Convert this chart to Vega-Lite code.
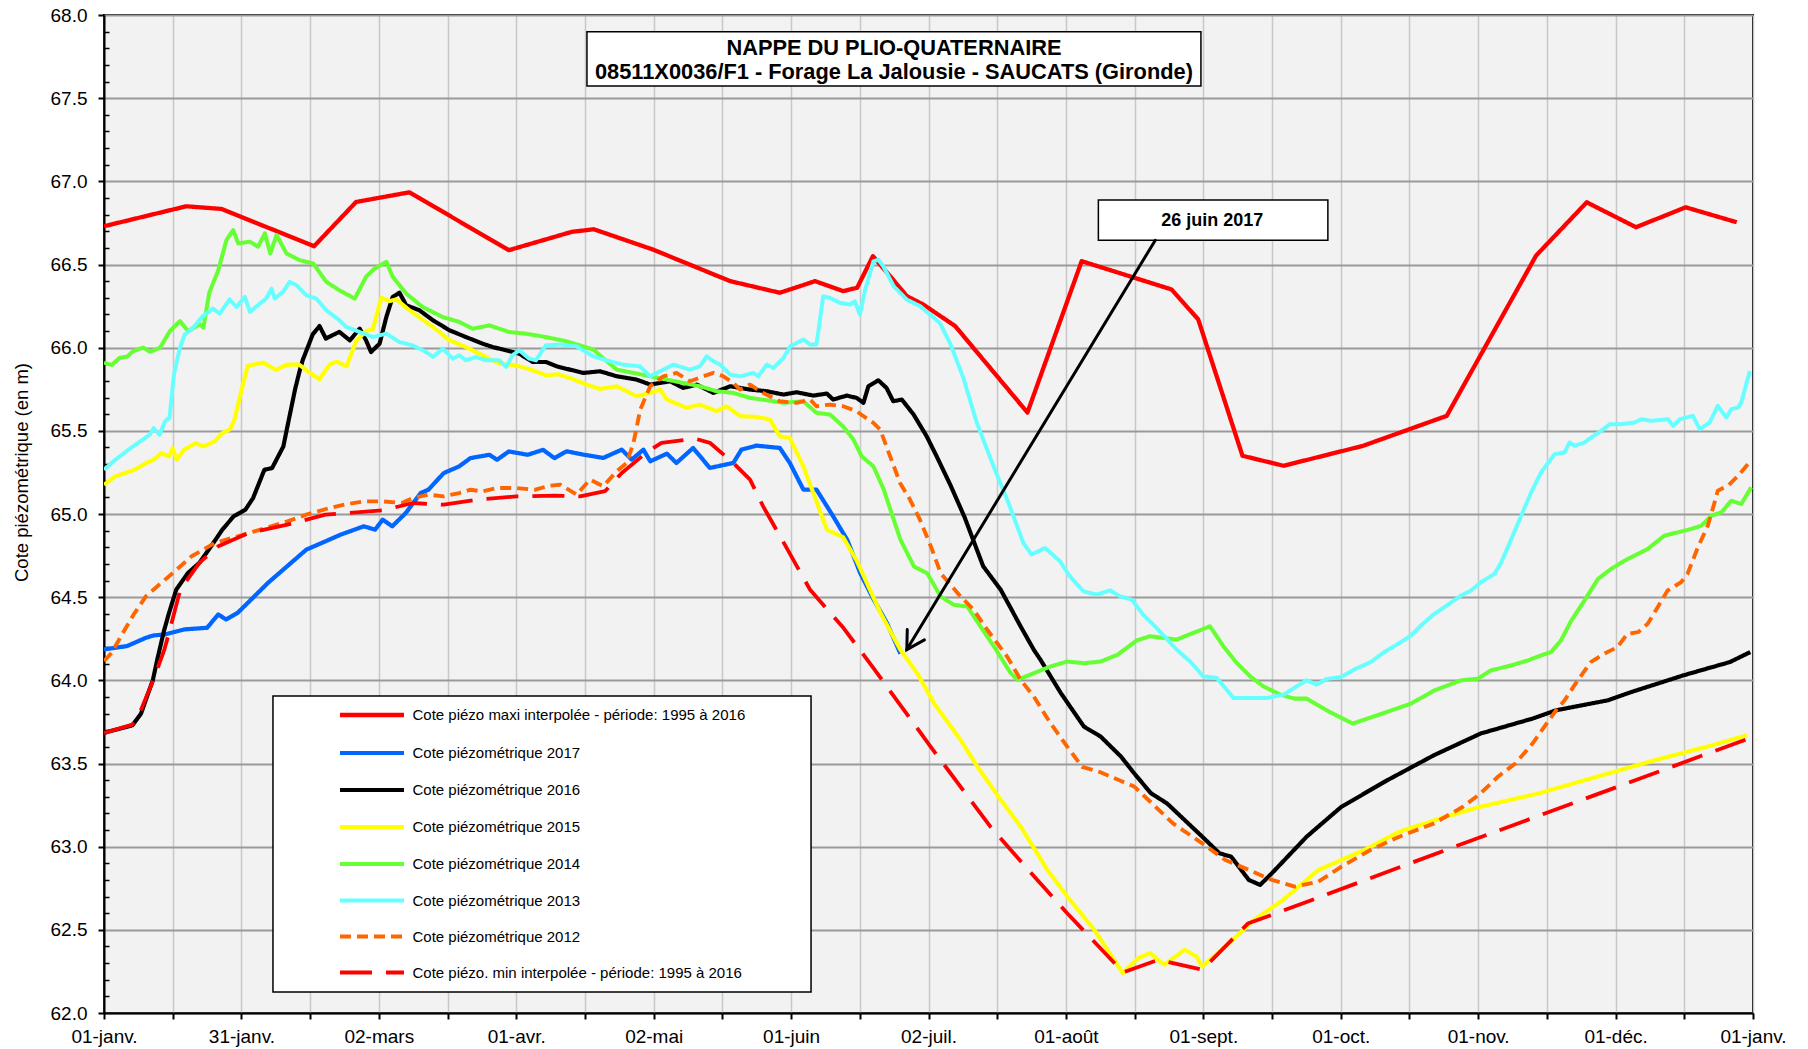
{
"$schema": "https://vega.github.io/schema/vega-lite/v6.json",
"width": 1649, "height": 998,
"autosize": {"type": "none"},
"padding": {"left": 104, "top": 15, "right": 55, "bottom": 36},
"background": "#FFFFFF",
"config": {
 "font": "Liberation Sans",
 "view": {"fill": "#F2F2F2", "stroke": "#000000", "strokeWidth": 2},
 "axis": {"labelFont": "Liberation Sans", "labelFontSize": 19, "labelColor": "#000000", "domainColor": "#000000", "domainWidth": 2, "tickColor": "#000000", "tickWidth": 2, "titleFont": "Liberation Sans", "titleFontSize": 18.5, "titleFontWeight": "normal", "titleColor": "#000000"},
 "legend": {"labelFont": "Liberation Sans"}
},
"resolve": {"axis": {"x": "independent", "y": "independent"}},
"datasets": {
 "boites": [
  {"b": "titre", "x1": 106.9, "x2": 242.8, "y1": 67.573, "y2": 67.9},
  {"b": "note", "x1": 220.1, "x2": 270.9, "y1": 66.646, "y2": 66.888},
  {"b": "legende", "x1": 37.4, "x2": 156.5, "y1": 62.126, "y2": 63.906}
 ],
 "textes": [
  {"k": "titre", "t": "NAPPE DU PLIO-QUATERNAIRE", "x": 174.85, "y": 67.76},
  {"k": "titre", "t": "08511X0036/F1 - Forage La Jalousie - SAUCATS (Gironde)", "x": 174.85, "y": 67.613},
  {"k": "note", "t": "26 juin 2017", "x": 245.3, "y": 66.73}
 ],
 "fleche": [
  {"p": "tige", "i": 0, "x": 232.7, "y": 66.646},
  {"p": "tige", "i": 1, "x": 177.7, "y": 64.185},
  {"p": "tete", "i": 0, "x": 177.8, "y": 64.305},
  {"p": "tete", "i": 1, "x": 177.7, "y": 64.185},
  {"p": "tete", "i": 2, "x": 181.6, "y": 64.243}
 ],
 "series": [
{"s":"maxi","j":0,"v":66.73},{"s":"maxi","j":18.2,"v":66.85},{"s":"maxi","j":26,"v":66.834},{"s":"maxi","j":46.5,"v":66.61},{"s":"maxi","j":55.8,"v":66.876},{"s":"maxi","j":67.6,"v":66.934},{"s":"maxi","j":89.6,"v":66.586},{"s":"maxi","j":103.5,"v":66.696},{"s":"maxi","j":108.4,"v":66.712},{"s":"maxi","j":121.5,"v":66.59},{"s":"maxi","j":138.6,"v":66.4},{"s":"maxi","j":149.6,"v":66.33},{"s":"maxi","j":157.4,"v":66.4},{"s":"maxi","j":163.6,"v":66.34},{"s":"maxi","j":166.7,"v":66.36},{"s":"maxi","j":170.2,"v":66.55},{"s":"maxi","j":174,"v":66.43},{"s":"maxi","j":177.7,"v":66.31},{"s":"maxi","j":181.3,"v":66.26},{"s":"maxi","j":188.4,"v":66.13},{"s":"maxi","j":204.4,"v":65.61},{"s":"maxi","j":216.4,"v":66.52},{"s":"maxi","j":236.3,"v":66.35},{"s":"maxi","j":242.2,"v":66.17},{"s":"maxi","j":252,"v":65.35},{"s":"maxi","j":261.1,"v":65.29},{"s":"maxi","j":278.7,"v":65.41},{"s":"maxi","j":297.2,"v":65.59},{"s":"maxi","j":317,"v":66.554},{"s":"maxi","j":328.2,"v":66.874},{"s":"maxi","j":339.1,"v":66.724},{"s":"maxi","j":350.1,"v":66.844},{"s":"maxi","j":361.4,"v":66.754},
{"s":"2017","j":0,"v":64.186},{"s":"2017","j":5.1,"v":64.206},{"s":"2017","j":9.3,"v":64.256},{"s":"2017","j":11,"v":64.27},{"s":"2017","j":13.5,"v":64.276},{"s":"2017","j":17.7,"v":64.306},{"s":"2017","j":22.8,"v":64.316},{"s":"2017","j":25.3,"v":64.396},{"s":"2017","j":27,"v":64.366},{"s":"2017","j":29.6,"v":64.406},{"s":"2017","j":36.3,"v":64.586},{"s":"2017","j":44.8,"v":64.786},{"s":"2017","j":48.2,"v":64.826},{"s":"2017","j":52.4,"v":64.876},{"s":"2017","j":57.5,"v":64.926},{"s":"2017","j":60,"v":64.906},{"s":"2017","j":61.7,"v":64.966},{"s":"2017","j":63.8,"v":64.926},{"s":"2017","j":66.8,"v":65.006},{"s":"2017","j":70.1,"v":65.126},{"s":"2017","j":71.8,"v":65.146},{"s":"2017","j":75.2,"v":65.246},{"s":"2017","j":78.6,"v":65.286},{"s":"2017","j":81.1,"v":65.336},{"s":"2017","j":85.3,"v":65.356},{"s":"2017","j":87,"v":65.326},{"s":"2017","j":89.6,"v":65.376},{"s":"2017","j":93.8,"v":65.356},{"s":"2017","j":97.2,"v":65.386},{"s":"2017","j":99.7,"v":65.336},{"s":"2017","j":102.4,"v":65.377},{"s":"2017","j":106.1,"v":65.357},{"s":"2017","j":110.5,"v":65.337},{"s":"2017","j":114.6,"v":65.387},{"s":"2017","j":116.8,"v":65.327},{"s":"2017","j":119.4,"v":65.387},{"s":"2017","j":120.9,"v":65.317},{"s":"2017","j":124.6,"v":65.363},{"s":"2017","j":126.7,"v":65.307},{"s":"2017","j":130.4,"v":65.397},{"s":"2017","j":134.1,"v":65.277},{"s":"2017","j":139.3,"v":65.307},{"s":"2017","j":141.1,"v":65.387},{"s":"2017","j":144.4,"v":65.411},{"s":"2017","j":149.6,"v":65.397},{"s":"2017","j":151.8,"v":65.307},{"s":"2017","j":154.8,"v":65.147},{"s":"2017","j":157.7,"v":65.147},{"s":"2017","j":161.4,"v":64.986},{"s":"2017","j":164.5,"v":64.845},{"s":"2017","j":167.4,"v":64.644},{"s":"2017","j":170.4,"v":64.484},{"s":"2017","j":173.3,"v":64.344},{"s":"2017","j":176.3,"v":64.16},
{"s":"2016","j":0,"v":63.684},{"s":"2016","j":6.3,"v":63.73},{"s":"2016","j":8.2,"v":63.8},{"s":"2016","j":9.3,"v":63.886},{"s":"2016","j":10.8,"v":64.0},{"s":"2016","j":11.8,"v":64.126},{"s":"2016","j":13.3,"v":64.3},{"s":"2016","j":14.4,"v":64.406},{"s":"2016","j":16,"v":64.546},{"s":"2016","j":18.6,"v":64.646},{"s":"2016","j":21.1,"v":64.706},{"s":"2016","j":23.7,"v":64.806},{"s":"2016","j":26.2,"v":64.906},{"s":"2016","j":28.7,"v":64.986},{"s":"2016","j":31.3,"v":65.026},{"s":"2016","j":33,"v":65.096},{"s":"2016","j":35.5,"v":65.266},{"s":"2016","j":37.2,"v":65.276},{"s":"2016","j":39.7,"v":65.406},{"s":"2016","j":40.4,"v":65.5},{"s":"2016","j":42.3,"v":65.75},{"s":"2016","j":43.3,"v":65.86},{"s":"2016","j":44,"v":65.926},{"s":"2016","j":46.2,"v":66.08},{"s":"2016","j":47.7,"v":66.13},{"s":"2016","j":49.1,"v":66.055},{"s":"2016","j":52.1,"v":66.095},{"s":"2016","j":54.4,"v":66.044},{"s":"2016","j":56.6,"v":66.114},{"s":"2016","j":58,"v":66.044},{"s":"2016","j":59.1,"v":65.974},{"s":"2016","j":61,"v":66.024},{"s":"2016","j":62.5,"v":66.185},{"s":"2016","j":63.9,"v":66.305},{"s":"2016","j":65.4,"v":66.33},{"s":"2016","j":66.9,"v":66.255},{"s":"2016","j":69.8,"v":66.225},{"s":"2016","j":72.8,"v":66.165},{"s":"2016","j":76.5,"v":66.104},{"s":"2016","j":80.1,"v":66.064},{"s":"2016","j":83.8,"v":66.024},{"s":"2016","j":86,"v":66.004},{"s":"2016","j":89,"v":65.984},{"s":"2016","j":91.9,"v":65.964},{"s":"2016","j":94.9,"v":65.914},{"s":"2016","j":97.8,"v":65.914},{"s":"2016","j":100.2,"v":65.888},{"s":"2016","j":103.1,"v":65.868},{"s":"2016","j":106.1,"v":65.848},{"s":"2016","j":109.8,"v":65.858},{"s":"2016","j":113.5,"v":65.828},{"s":"2016","j":117.9,"v":65.808},{"s":"2016","j":120.9,"v":65.778},{"s":"2016","j":125.3,"v":65.798},{"s":"2016","j":128.2,"v":65.758},{"s":"2016","j":131.2,"v":65.778},{"s":"2016","j":134.9,"v":65.728},{"s":"2016","j":138.6,"v":65.768},{"s":"2016","j":143,"v":65.748},{"s":"2016","j":146.7,"v":65.738},{"s":"2016","j":150.4,"v":65.718},{"s":"2016","j":153.3,"v":65.732},{"s":"2016","j":157,"v":65.712},{"s":"2016","j":160,"v":65.724},{"s":"2016","j":161.4,"v":65.688},{"s":"2016","j":164.4,"v":65.712},{"s":"2016","j":166.6,"v":65.698},{"s":"2016","j":168.1,"v":65.668},{"s":"2016","j":169.2,"v":65.768},{"s":"2016","j":171.4,"v":65.804},{"s":"2016","j":173.2,"v":65.758},{"s":"2016","j":174.7,"v":65.678},{"s":"2016","j":176.6,"v":65.688},{"s":"2016","j":179.2,"v":65.598},{"s":"2016","j":182.1,"v":65.467},{"s":"2016","j":184.3,"v":65.347},{"s":"2016","j":187.3,"v":65.177},{"s":"2016","j":190.5,"v":64.98},{"s":"2016","j":194.6,"v":64.686},{"s":"2016","j":198.5,"v":64.544},{"s":"2016","j":202.9,"v":64.324},{"s":"2016","j":205.8,"v":64.184},{"s":"2016","j":207.3,"v":64.123},{"s":"2016","j":211.8,"v":63.923},{"s":"2016","j":216.9,"v":63.722},{"s":"2016","j":220.6,"v":63.662},{"s":"2016","j":225.1,"v":63.542},{"s":"2016","j":228,"v":63.442},{"s":"2016","j":231.7,"v":63.322},{"s":"2016","j":235.3,"v":63.26},{"s":"2016","j":243.1,"v":63.06},{"s":"2016","j":246.9,"v":62.96},{"s":"2016","j":249.5,"v":62.94},{"s":"2016","j":253.4,"v":62.8},{"s":"2016","j":255.9,"v":62.77},{"s":"2016","j":258.5,"v":62.84},{"s":"2016","j":266.2,"v":63.06},{"s":"2016","j":273.9,"v":63.24},{"s":"2016","j":284.1,"v":63.4},{"s":"2016","j":294.4,"v":63.55},{"s":"2016","j":304.7,"v":63.68},{"s":"2016","j":316.2,"v":63.77},{"s":"2016","j":321.4,"v":63.82},{"s":"2016","j":332.9,"v":63.88},{"s":"2016","j":338.1,"v":63.93},{"s":"2016","j":349.6,"v":64.03},{"s":"2016","j":359.9,"v":64.11},{"s":"2016","j":364.4,"v":64.17},
{"s":"2015","j":0,"v":65.176},{"s":"2015","j":2.5,"v":65.226},{"s":"2015","j":6.8,"v":65.266},{"s":"2015","j":9.3,"v":65.306},{"s":"2015","j":11,"v":65.326},{"s":"2015","j":12.7,"v":65.366},{"s":"2015","j":14.4,"v":65.346},{"s":"2015","j":15.2,"v":65.396},{"s":"2015","j":16.1,"v":65.326},{"s":"2015","j":17.7,"v":65.386},{"s":"2015","j":20.3,"v":65.426},{"s":"2015","j":22,"v":65.406},{"s":"2015","j":24.5,"v":65.436},{"s":"2015","j":26.2,"v":65.486},{"s":"2015","j":27.9,"v":65.51},{"s":"2015","j":28.8,"v":65.56},{"s":"2015","j":30.5,"v":65.75},{"s":"2015","j":31.8,"v":65.89},{"s":"2015","j":35.2,"v":65.91},{"s":"2015","j":38.1,"v":65.866},{"s":"2015","j":40.5,"v":65.898},{"s":"2015","j":43.2,"v":65.898},{"s":"2015","j":45.5,"v":65.85},{"s":"2015","j":47.7,"v":65.81},{"s":"2015","j":49.9,"v":65.898},{"s":"2015","j":51.5,"v":65.916},{"s":"2015","j":53.7,"v":65.888},{"s":"2015","j":55.8,"v":66.04},{"s":"2015","j":58,"v":66.1},{"s":"2015","j":59.5,"v":66.11},{"s":"2015","j":61.4,"v":66.3},{"s":"2015","j":63.2,"v":66.28},{"s":"2015","j":64.7,"v":66.29},{"s":"2015","j":67.6,"v":66.225},{"s":"2015","j":72.8,"v":66.125},{"s":"2015","j":76.5,"v":66.044},{"s":"2015","j":80.1,"v":66.004},{"s":"2015","j":83.8,"v":65.954},{"s":"2015","j":87.5,"v":65.904},{"s":"2015","j":91.2,"v":65.894},{"s":"2015","j":94.9,"v":65.864},{"s":"2015","j":97.8,"v":65.834},{"s":"2015","j":100.5,"v":65.84},{"s":"2015","j":103.1,"v":65.818},{"s":"2015","j":106.8,"v":65.778},{"s":"2015","j":109.8,"v":65.752},{"s":"2015","j":113.5,"v":65.768},{"s":"2015","j":117.9,"v":65.708},{"s":"2015","j":120.9,"v":65.728},{"s":"2015","j":123.1,"v":65.748},{"s":"2015","j":124.6,"v":65.688},{"s":"2015","j":129,"v":65.638},{"s":"2015","j":131.9,"v":65.658},{"s":"2015","j":135.6,"v":65.618},{"s":"2015","j":137.8,"v":65.648},{"s":"2015","j":140.8,"v":65.588},{"s":"2015","j":144.4,"v":65.584},{"s":"2015","j":147.4,"v":65.568},{"s":"2015","j":149.6,"v":65.467},{"s":"2015","j":151.8,"v":65.457},{"s":"2015","j":154.8,"v":65.287},{"s":"2015","j":157,"v":65.127},{"s":"2015","j":160,"v":64.906},{"s":"2015","j":163.6,"v":64.86},{"s":"2015","j":166.6,"v":64.72},{"s":"2015","j":171.9,"v":64.404},{"s":"2015","j":176.3,"v":64.183},{"s":"2015","j":180,"v":64.043},{"s":"2015","j":183.7,"v":63.863},{"s":"2015","j":189.6,"v":63.642},{"s":"2015","j":193.3,"v":63.482},{"s":"2015","j":198.5,"v":63.281},{"s":"2015","j":202.9,"v":63.121},{"s":"2015","j":208.8,"v":62.861},{"s":"2015","j":213.2,"v":62.701},{"s":"2015","j":219.2,"v":62.5},{"s":"2015","j":225.5,"v":62.24},{"s":"2015","j":228.9,"v":62.33},{"s":"2015","j":231.5,"v":62.36},{"s":"2015","j":234.7,"v":62.29},{"s":"2015","j":239.2,"v":62.38},{"s":"2015","j":241.8,"v":62.34},{"s":"2015","j":243.1,"v":62.28},{"s":"2015","j":248.2,"v":62.4},{"s":"2015","j":254.6,"v":62.56},{"s":"2015","j":261,"v":62.68},{"s":"2015","j":268.8,"v":62.86},{"s":"2015","j":279,"v":62.98},{"s":"2015","j":286.7,"v":63.09},{"s":"2015","j":297,"v":63.18},{"s":"2015","j":304.7,"v":63.24},{"s":"2015","j":317.5,"v":63.32},{"s":"2015","j":330.4,"v":63.42},{"s":"2015","j":343.3,"v":63.52},{"s":"2015","j":356,"v":63.61},{"s":"2015","j":363.7,"v":63.67},
{"s":"2014","j":0,"v":65.91},{"s":"2014","j":1.7,"v":65.896},{"s":"2014","j":3.5,"v":65.94},{"s":"2014","j":5.1,"v":65.946},{"s":"2014","j":6.5,"v":65.98},{"s":"2014","j":8.7,"v":66.0},{"s":"2014","j":10.2,"v":65.975},{"s":"2014","j":12.4,"v":66.0},{"s":"2014","j":14.6,"v":66.1},{"s":"2014","j":16.8,"v":66.16},{"s":"2014","j":18.6,"v":66.1},{"s":"2014","j":21.2,"v":66.14},{"s":"2014","j":22,"v":66.12},{"s":"2014","j":23.3,"v":66.33},{"s":"2014","j":25.3,"v":66.466},{"s":"2014","j":27.1,"v":66.647},{"s":"2014","j":28.6,"v":66.707},{"s":"2014","j":29.7,"v":66.627},{"s":"2014","j":32.3,"v":66.637},{"s":"2014","j":34.1,"v":66.607},{"s":"2014","j":35.6,"v":66.687},{"s":"2014","j":36.8,"v":66.566},{"s":"2014","j":38.2,"v":66.677},{"s":"2014","j":40.4,"v":66.566},{"s":"2014","j":43.3,"v":66.526},{"s":"2014","j":46.3,"v":66.506},{"s":"2014","j":49.2,"v":66.396},{"s":"2014","j":52.1,"v":66.345},{"s":"2014","j":55.5,"v":66.295},{"s":"2014","j":58,"v":66.426},{"s":"2014","j":59.9,"v":66.476},{"s":"2014","j":62.5,"v":66.516},{"s":"2014","j":63.9,"v":66.426},{"s":"2014","j":66.9,"v":66.325},{"s":"2014","j":70.5,"v":66.245},{"s":"2014","j":74.9,"v":66.185},{"s":"2014","j":78.6,"v":66.155},{"s":"2014","j":81.6,"v":66.114},{"s":"2014","j":85.3,"v":66.134},{"s":"2014","j":89.7,"v":66.094},{"s":"2014","j":93.4,"v":66.084},{"s":"2014","j":97.8,"v":66.064},{"s":"2014","j":102.4,"v":66.038},{"s":"2014","j":108.3,"v":65.989},{"s":"2014","j":111.3,"v":65.918},{"s":"2014","j":113.5,"v":65.868},{"s":"2014","j":117.2,"v":65.848},{"s":"2014","j":120.9,"v":65.828},{"s":"2014","j":128.2,"v":65.788},{"s":"2014","j":131.9,"v":65.768},{"s":"2014","j":135.6,"v":65.738},{"s":"2014","j":139.3,"v":65.728},{"s":"2014","j":143,"v":65.698},{"s":"2014","j":146.7,"v":65.684},{"s":"2014","j":150.4,"v":65.668},{"s":"2014","j":154.8,"v":65.678},{"s":"2014","j":157.7,"v":65.608},{"s":"2014","j":160.7,"v":65.598},{"s":"2014","j":163.6,"v":65.527},{"s":"2014","j":165.9,"v":65.447},{"s":"2014","j":167.7,"v":65.347},{"s":"2014","j":170.3,"v":65.287},{"s":"2014","j":172.6,"v":65.147},{"s":"2014","j":174.8,"v":64.966},{"s":"2014","j":176.3,"v":64.845},{"s":"2014","j":179.3,"v":64.684},{"s":"2014","j":182.2,"v":64.644},{"s":"2014","j":185.2,"v":64.504},{"s":"2014","j":188.1,"v":64.454},{"s":"2014","j":191.1,"v":64.444},{"s":"2014","j":194,"v":64.324},{"s":"2014","j":197,"v":64.203},{"s":"2014","j":200.7,"v":64.043},{"s":"2014","j":202.2,"v":64.003},{"s":"2014","j":205.8,"v":64.043},{"s":"2014","j":209.5,"v":64.083},{"s":"2014","j":213.2,"v":64.113},{"s":"2014","j":216.9,"v":64.103},{"s":"2014","j":220.6,"v":64.113},{"s":"2014","j":224.3,"v":64.153},{"s":"2014","j":228.6,"v":64.24},{"s":"2014","j":231.5,"v":64.265},{"s":"2014","j":237.4,"v":64.245},{"s":"2014","j":241.1,"v":64.285},{"s":"2014","j":244.8,"v":64.325},{"s":"2014","j":247.8,"v":64.204},{"s":"2014","j":250.7,"v":64.105},{"s":"2014","j":253.7,"v":64.024},{"s":"2014","j":256.6,"v":63.964},{"s":"2014","j":260.4,"v":63.914},{"s":"2014","j":263.5,"v":63.89},{"s":"2014","j":266.2,"v":63.89},{"s":"2014","j":271.3,"v":63.81},{"s":"2014","j":276.4,"v":63.74},{"s":"2014","j":282.9,"v":63.8},{"s":"2014","j":289.3,"v":63.86},{"s":"2014","j":294.5,"v":63.94},{"s":"2014","j":300.4,"v":64.0},{"s":"2014","j":304.1,"v":64.01},{"s":"2014","j":307,"v":64.06},{"s":"2014","j":311.5,"v":64.09},{"s":"2014","j":315.2,"v":64.12},{"s":"2014","j":318.1,"v":64.15},{"s":"2014","j":320.3,"v":64.17},{"s":"2014","j":322.5,"v":64.24},{"s":"2014","j":324.8,"v":64.36},{"s":"2014","j":327.7,"v":64.48},{"s":"2014","j":330.7,"v":64.61},{"s":"2014","j":333.6,"v":64.67},{"s":"2014","j":336.6,"v":64.72},{"s":"2014","j":338.8,"v":64.75},{"s":"2014","j":341.7,"v":64.79},{"s":"2014","j":345.4,"v":64.87},{"s":"2014","j":348.4,"v":64.89},{"s":"2014","j":351.3,"v":64.91},{"s":"2014","j":353.6,"v":64.93},{"s":"2014","j":355.8,"v":64.99},{"s":"2014","j":358,"v":65.01},{"s":"2014","j":360.2,"v":65.08},{"s":"2014","j":362.4,"v":65.06},{"s":"2014","j":364.6,"v":65.16},
{"s":"2013","j":0,"v":65.266},{"s":"2013","j":2.5,"v":65.326},{"s":"2013","j":5.9,"v":65.396},{"s":"2013","j":8.5,"v":65.446},{"s":"2013","j":10.1,"v":65.476},{"s":"2013","j":11,"v":65.516},{"s":"2013","j":12.3,"v":65.476},{"s":"2013","j":13.5,"v":65.556},{"s":"2013","j":14.5,"v":65.58},{"s":"2013","j":15.5,"v":65.84},{"s":"2013","j":16.8,"v":66.0},{"s":"2013","j":17.9,"v":66.08},{"s":"2013","j":19.7,"v":66.12},{"s":"2013","j":21.9,"v":66.19},{"s":"2013","j":24.1,"v":66.235},{"s":"2013","j":25.6,"v":66.205},{"s":"2013","j":27.8,"v":66.29},{"s":"2013","j":29.3,"v":66.245},{"s":"2013","j":31.2,"v":66.305},{"s":"2013","j":32.3,"v":66.215},{"s":"2013","j":34.5,"v":66.265},{"s":"2013","j":35.9,"v":66.295},{"s":"2013","j":37.1,"v":66.355},{"s":"2013","j":37.8,"v":66.295},{"s":"2013","j":39.6,"v":66.335},{"s":"2013","j":41.1,"v":66.396},{"s":"2013","j":42.6,"v":66.375},{"s":"2013","j":44.8,"v":66.315},{"s":"2013","j":47,"v":66.295},{"s":"2013","j":49.2,"v":66.225},{"s":"2013","j":52.1,"v":66.165},{"s":"2013","j":53.6,"v":66.125},{"s":"2013","j":56.6,"v":66.094},{"s":"2013","j":59.5,"v":66.064},{"s":"2013","j":62.5,"v":66.084},{"s":"2013","j":65.4,"v":66.034},{"s":"2013","j":68.3,"v":66.014},{"s":"2013","j":71.3,"v":65.974},{"s":"2013","j":72.8,"v":65.944},{"s":"2013","j":75,"v":65.994},{"s":"2013","j":77.2,"v":65.934},{"s":"2013","j":78.7,"v":65.954},{"s":"2013","j":80.1,"v":65.924},{"s":"2013","j":82.3,"v":65.944},{"s":"2013","j":84.5,"v":65.924},{"s":"2013","j":87.5,"v":65.924},{"s":"2013","j":89,"v":65.884},{"s":"2013","j":90.4,"v":65.954},{"s":"2013","j":91.9,"v":65.984},{"s":"2013","j":94.1,"v":65.934},{"s":"2013","j":95.6,"v":65.924},{"s":"2013","j":97.8,"v":66.014},{"s":"2013","j":101,"v":66.019},{"s":"2013","j":104.6,"v":66.008},{"s":"2013","j":108.3,"v":65.948},{"s":"2013","j":112,"v":65.918},{"s":"2013","j":114.9,"v":65.898},{"s":"2013","j":118.6,"v":65.888},{"s":"2013","j":120.9,"v":65.828},{"s":"2013","j":123.8,"v":65.868},{"s":"2013","j":126,"v":65.898},{"s":"2013","j":129.7,"v":65.868},{"s":"2013","j":131.9,"v":65.888},{"s":"2013","j":133.4,"v":65.948},{"s":"2013","j":134.9,"v":65.918},{"s":"2013","j":136.4,"v":65.898},{"s":"2013","j":138.6,"v":65.838},{"s":"2013","j":140.8,"v":65.828},{"s":"2013","j":143.7,"v":65.848},{"s":"2013","j":144.8,"v":65.828},{"s":"2013","j":146.7,"v":65.898},{"s":"2013","j":148.2,"v":65.878},{"s":"2013","j":150.4,"v":65.938},{"s":"2013","j":151.9,"v":66.008},{"s":"2013","j":154.8,"v":66.049},{"s":"2013","j":156.3,"v":66.019},{"s":"2013","j":157.7,"v":66.019},{"s":"2013","j":159.2,"v":66.309},{"s":"2013","j":160.7,"v":66.299},{"s":"2013","j":162.9,"v":66.269},{"s":"2013","j":165.1,"v":66.259},{"s":"2013","j":166.2,"v":66.279},{"s":"2013","j":167.3,"v":66.199},{"s":"2013","j":168.4,"v":66.339},{"s":"2013","j":170.3,"v":66.519},{"s":"2013","j":171.4,"v":66.529},{"s":"2013","j":172.5,"v":66.489},{"s":"2013","j":174.8,"v":66.369},{"s":"2013","j":177.7,"v":66.289},{"s":"2013","j":180.7,"v":66.249},{"s":"2013","j":185,"v":66.149},{"s":"2013","j":187.3,"v":66.025},{"s":"2013","j":190.2,"v":65.82},{"s":"2013","j":193.2,"v":65.548},{"s":"2013","j":196.9,"v":65.287},{"s":"2013","j":200.2,"v":65.067},{"s":"2013","j":203.5,"v":64.826},{"s":"2013","j":205.3,"v":64.756},{"s":"2013","j":208.3,"v":64.796},{"s":"2013","j":211.6,"v":64.716},{"s":"2013","j":213.8,"v":64.625},{"s":"2013","j":216.8,"v":64.535},{"s":"2013","j":219.7,"v":64.515},{"s":"2013","j":222.7,"v":64.541},{"s":"2013","j":224.9,"v":64.505},{"s":"2013","j":227.5,"v":64.485},{"s":"2013","j":230,"v":64.395},{"s":"2013","j":233,"v":64.315},{"s":"2013","j":237.4,"v":64.185},{"s":"2013","j":240.4,"v":64.114},{"s":"2013","j":243.3,"v":64.024},{"s":"2013","j":246.3,"v":64.014},{"s":"2013","j":248.5,"v":63.944},{"s":"2013","j":250,"v":63.894},{"s":"2013","j":253.7,"v":63.894},{"s":"2013","j":257.4,"v":63.894},{"s":"2013","j":261.1,"v":63.914},{"s":"2013","j":264,"v":63.964},{"s":"2013","j":266.2,"v":64.0},{"s":"2013","j":268.4,"v":63.974},{"s":"2013","j":270.6,"v":64.008},{"s":"2013","j":273.8,"v":64.02},{"s":"2013","j":277.1,"v":64.07},{"s":"2013","j":280.4,"v":64.11},{"s":"2013","j":283.4,"v":64.17},{"s":"2013","j":287.1,"v":64.23},{"s":"2013","j":289.3,"v":64.27},{"s":"2013","j":291.5,"v":64.33},{"s":"2013","j":294.5,"v":64.4},{"s":"2013","j":296.7,"v":64.44},{"s":"2013","j":300.4,"v":64.51},{"s":"2013","j":302.6,"v":64.54},{"s":"2013","j":304.8,"v":64.59},{"s":"2013","j":307.8,"v":64.64},{"s":"2013","j":309.3,"v":64.71},{"s":"2013","j":311.5,"v":64.85},{"s":"2013","j":313.7,"v":64.99},{"s":"2013","j":315.9,"v":65.13},{"s":"2013","j":318.1,"v":65.25},{"s":"2013","j":321.1,"v":65.36},{"s":"2013","j":323.3,"v":65.37},{"s":"2013","j":324.4,"v":65.43},{"s":"2013","j":325.5,"v":65.41},{"s":"2013","j":327.7,"v":65.43},{"s":"2013","j":329.2,"v":65.46},{"s":"2013","j":331.4,"v":65.5},{"s":"2013","j":333.3,"v":65.54},{"s":"2013","j":335.8,"v":65.54},{"s":"2013","j":338.8,"v":65.55},{"s":"2013","j":340.3,"v":65.57},{"s":"2013","j":342.5,"v":65.56},{"s":"2013","j":346.2,"v":65.57},{"s":"2013","j":347.3,"v":65.53},{"s":"2013","j":348.8,"v":65.57},{"s":"2013","j":351.7,"v":65.59},{"s":"2013","j":353.2,"v":65.51},{"s":"2013","j":355.4,"v":65.55},{"s":"2013","j":357.2,"v":65.65},{"s":"2013","j":359.1,"v":65.58},{"s":"2013","j":360.2,"v":65.63},{"s":"2013","j":361.7,"v":65.64},{"s":"2013","j":362.4,"v":65.67},{"s":"2013","j":364.3,"v":65.86},
{"s":"2012","j":0,"v":64.116},{"s":"2012","j":1.7,"v":64.166},{"s":"2012","j":4.2,"v":64.286},{"s":"2012","j":6.8,"v":64.406},{"s":"2012","j":9.3,"v":64.506},{"s":"2012","j":12.7,"v":64.586},{"s":"2012","j":16.1,"v":64.666},{"s":"2012","j":19.4,"v":64.746},{"s":"2012","j":22,"v":64.786},{"s":"2012","j":24.5,"v":64.826},{"s":"2012","j":29.6,"v":64.866},{"s":"2012","j":34.6,"v":64.906},{"s":"2012","j":40.6,"v":64.956},{"s":"2012","j":44.8,"v":64.996},{"s":"2012","j":49.9,"v":65.036},{"s":"2012","j":53.2,"v":65.056},{"s":"2012","j":57.5,"v":65.076},{"s":"2012","j":61.7,"v":65.076},{"s":"2012","j":65.9,"v":65.066},{"s":"2012","j":68.4,"v":65.096},{"s":"2012","j":71.8,"v":65.116},{"s":"2012","j":75.2,"v":65.106},{"s":"2012","j":78.6,"v":65.126},{"s":"2012","j":81.1,"v":65.146},{"s":"2012","j":83.7,"v":65.136},{"s":"2012","j":87,"v":65.156},{"s":"2012","j":91.3,"v":65.156},{"s":"2012","j":95.5,"v":65.146},{"s":"2012","j":98.5,"v":65.17},{"s":"2012","j":101,"v":65.176},{"s":"2012","j":104.6,"v":65.117},{"s":"2012","j":107.6,"v":65.207},{"s":"2012","j":110.5,"v":65.167},{"s":"2012","j":113.5,"v":65.257},{"s":"2012","j":115.7,"v":65.307},{"s":"2012","j":117.2,"v":65.428},{"s":"2012","j":118.7,"v":65.628},{"s":"2012","j":120.9,"v":65.768},{"s":"2012","j":123.8,"v":65.828},{"s":"2012","j":126.7,"v":65.848},{"s":"2012","j":129.7,"v":65.798},{"s":"2012","j":132.7,"v":65.828},{"s":"2012","j":134.9,"v":65.848},{"s":"2012","j":137.1,"v":65.828},{"s":"2012","j":139.3,"v":65.788},{"s":"2012","j":140.8,"v":65.748},{"s":"2012","j":143,"v":65.778},{"s":"2012","j":145.9,"v":65.728},{"s":"2012","j":149.6,"v":65.678},{"s":"2012","j":153.3,"v":65.668},{"s":"2012","j":156.3,"v":65.688},{"s":"2012","j":157.7,"v":65.648},{"s":"2012","j":160.7,"v":65.658},{"s":"2012","j":163.6,"v":65.648},{"s":"2012","j":166.6,"v":65.618},{"s":"2012","j":168.1,"v":65.588},{"s":"2012","j":170.3,"v":65.548},{"s":"2012","j":171.8,"v":65.508},{"s":"2012","j":174,"v":65.347},{"s":"2012","j":176.2,"v":65.187},{"s":"2012","j":178.4,"v":65.087},{"s":"2012","j":180.6,"v":64.966},{"s":"2012","j":183.1,"v":64.8},{"s":"2012","j":185.2,"v":64.644},{"s":"2012","j":189.6,"v":64.504},{"s":"2012","j":192.5,"v":64.424},{"s":"2012","j":195.5,"v":64.304},{"s":"2012","j":199.9,"v":64.143},{"s":"2012","j":202.9,"v":64.003},{"s":"2012","j":205.8,"v":63.903},{"s":"2012","j":209.5,"v":63.742},{"s":"2012","j":213.2,"v":63.602},{"s":"2012","j":216.5,"v":63.48},{"s":"2012","j":220.3,"v":63.45},{"s":"2012","j":225.5,"v":63.39},{"s":"2012","j":228,"v":63.362},{"s":"2012","j":231.6,"v":63.27},{"s":"2012","j":236.6,"v":63.14},{"s":"2012","j":243.1,"v":63.02},{"s":"2012","j":248.2,"v":62.92},{"s":"2012","j":253.4,"v":62.86},{"s":"2012","j":258.5,"v":62.8},{"s":"2012","j":263.6,"v":62.76},{"s":"2012","j":268.8,"v":62.79},{"s":"2012","j":273.9,"v":62.88},{"s":"2012","j":280.3,"v":62.98},{"s":"2012","j":286.7,"v":63.06},{"s":"2012","j":294.4,"v":63.14},{"s":"2012","j":300.8,"v":63.24},{"s":"2012","j":304.7,"v":63.32},{"s":"2012","j":308.5,"v":63.42},{"s":"2012","j":312.4,"v":63.5},{"s":"2012","j":316.2,"v":63.62},{"s":"2012","j":318.8,"v":63.72},{"s":"2012","j":321.4,"v":63.82},{"s":"2012","j":323.3,"v":63.88},{"s":"2012","j":326.2,"v":64.0},{"s":"2012","j":329.1,"v":64.11},{"s":"2012","j":332.1,"v":64.16},{"s":"2012","j":335,"v":64.2},{"s":"2012","j":337.2,"v":64.28},{"s":"2012","j":339.6,"v":64.29},{"s":"2012","j":341.7,"v":64.34},{"s":"2012","j":343.9,"v":64.44},{"s":"2012","j":346.1,"v":64.54},{"s":"2012","j":349.1,"v":64.59},{"s":"2012","j":350.5,"v":64.64},{"s":"2012","j":352.8,"v":64.8},{"s":"2012","j":355,"v":64.93},{"s":"2012","j":356.5,"v":65.07},{"s":"2012","j":357.2,"v":65.14},{"s":"2012","j":359.5,"v":65.17},{"s":"2012","j":361.7,"v":65.23},{"s":"2012","j":363.9,"v":65.3},
{"s":"min","j":0,"v":63.684},{"s":"min","j":6.3,"v":63.734},{"s":"min","j":8.2,"v":63.824},{"s":"min","j":10.8,"v":63.994},{"s":"min","j":13.3,"v":64.18},{"s":"min","j":14.4,"v":64.286},{"s":"min","j":16.9,"v":64.546},{"s":"min","j":21.1,"v":64.706},{"s":"min","j":25.3,"v":64.806},{"s":"min","j":32.1,"v":64.886},{"s":"min","j":40.6,"v":64.936},{"s":"min","j":49,"v":64.996},{"s":"min","j":61.7,"v":65.022},{"s":"min","j":68.4,"v":65.066},{"s":"min","j":75.2,"v":65.056},{"s":"min","j":82.8,"v":65.086},{"s":"min","j":91.3,"v":65.106},{"s":"min","j":99.7,"v":65.11},{"s":"min","j":105.4,"v":65.106},{"s":"min","j":110.9,"v":65.137},{"s":"min","j":114.6,"v":65.247},{"s":"min","j":120.1,"v":65.37},{"s":"min","j":123.4,"v":65.428},{"s":"min","j":130.8,"v":65.453},{"s":"min","j":134.1,"v":65.428},{"s":"min","j":139.3,"v":65.307},{"s":"min","j":143,"v":65.207},{"s":"min","j":145.9,"v":65.046},{"s":"min","j":151.1,"v":64.796},{"s":"min","j":156.3,"v":64.544},{"s":"min","j":163.7,"v":64.314},{"s":"min","j":170.4,"v":64.07},{"s":"min","j":183,"v":63.6},{"s":"min","j":196.2,"v":63.12},{"s":"min","j":205.9,"v":62.82},{"s":"min","j":213.2,"v":62.6},{"s":"min","j":225.6,"v":62.244},{"s":"min","j":233.4,"v":62.32},{"s":"min","j":243.1,"v":62.26},{"s":"min","j":253.3,"v":62.54},{"s":"min","j":258.5,"v":62.59},{"s":"min","j":299.5,"v":63.005},{"s":"min","j":365,"v":63.66}
 ]
},
"layer": [
 {
  "data": {"name": "boites"},
  "mark": {"type": "rect", "fill": "#FFFFFF", "stroke": "#000000", "strokeWidth": 1.5},
  "encoding": {
   "x": {"field": "x1", "type": "quantitative", "scale": {"domain": [0, 365], "nice": false, "zero": false}, "axis": null},
   "x2": {"field": "x2"},
   "y": {"field": "y1", "type": "quantitative", "scale": {"domain": [62, 68], "nice": false, "zero": false},
         "axis": {"orient": "left", "values": [62.1,62.2,62.3,62.4,62.6,62.7,62.8,62.9,63.1,63.2,63.3,63.4,63.6,63.7,63.8,63.9,64.1,64.2,64.3,64.4,64.6,64.7,64.8,64.9,65.1,65.2,65.3,65.4,65.6,65.7,65.8,65.9,66.1,66.2,66.3,66.4,66.6,66.7,66.8,66.9,67.1,67.2,67.3,67.4,67.6,67.7,67.8,67.9],
                  "labels": false, "domain": false, "grid": false, "tickSize": 5, "offset": -5, "tickWidth": 1.5, "title": null}},
   "y2": {"field": "y2"}
  }
 },
 {
  "data": {"name": "series"},
  "mark": {"type": "line", "strokeJoin": "round", "clip": true},
  "encoding": {
   "x": {"field": "j", "type": "quantitative", "scale": {"domain": [0, 365], "nice": false, "zero": false},
         "axis": {"orient": "bottom", "values": [0,15.2083,30.4167,45.625,60.8333,76.0417,91.25,106.4583,121.6667,136.875,152.0833,167.2917,182.5,197.7083,212.9167,228.125,243.3333,258.5417,273.75,288.9583,304.1667,319.375,334.5833,349.7917,365],
                  "labelExpr": "round(datum.value / 15.208333) % 2 == 0 ? ['01-janv.','31-janv.','02-mars','01-avr.','02-mai','01-juin','02-juil.','01-août','01-sept.','01-oct.','01-nov.','01-déc.','01-janv.'][round(datum.value / 30.416667)] : ''",
                  "labelOverlap": false, "labelFlush": false, "labelAngle": 0, "tickSize": 6, "labelPadding": 8,
                  "grid": true, "gridColor": "#C8C8C8", "gridWidth": 1.5, "title": null}},
   "y": {"field": "v", "type": "quantitative", "scale": {"domain": [62, 68], "nice": false, "zero": false},
         "axis": {"orient": "left", "values": [62,62.5,63,63.5,64,64.5,65,65.5,66,66.5,67,67.5,68], "format": ".1f",
                  "tickSize": 6, "labelPadding": 11, "grid": true, "gridColor": "#9A9A9A", "gridWidth": 2,
                  "title": "Cote piézométrique (en m)", "titleX": -83, "titleY": 457, "titleAngle": 270, "titleAlign": "center", "titleBaseline": "middle"}},
   "color": {"field": "s", "type": "nominal",
     "scale": {"domain": ["maxi","2017","2016","2015","2014","2013","2012","min"], "range": ["#FF0000","#0066FF","#000000","#FFFF00","#66FF33","#66FFFF","#FF6600","#FF0000"]},
     "legend": {"title": null, "orient": "none", "legendX": 257.5, "legendY": 689.5, "direction": "vertical", "padding": 0,
                "symbolType": "M-4,0H4", "symbolSize": 256, "symbolStrokeWidth": 4.5, "labelFontSize": 15, "labelColor": "#000000",
                "labelOffset": 30, "labelLimit": 600, "rowPadding": 18,
                "labelExpr": "datum.label == 'maxi' ? 'Cote piézo maxi interpolée - période: 1995 à 2016' : datum.label == 'min' ? 'Cote piézo. min interpolée - période: 1995 à 2016' : 'Cote piézométrique ' + datum.label"}},
   "strokeDash": {"field": "s", "type": "nominal",
     "scale": {"domain": ["maxi","2017","2016","2015","2014","2013","2012","min"], "range": [[1,0],[1,0],[1,0],[1,0],[1,0],[1,0],[11,6],[32,14]]},
     "legend": {"title": null, "orient": "none", "legendX": 257.5, "legendY": 689.5, "direction": "vertical", "padding": 0,
                "symbolType": "M-4,0H4", "symbolSize": 256, "symbolStrokeWidth": 4.5, "labelFontSize": 15, "labelColor": "#000000",
                "labelOffset": 30, "labelLimit": 600, "rowPadding": 18,
                "labelExpr": "datum.label == 'maxi' ? 'Cote piézo maxi interpolée - période: 1995 à 2016' : datum.label == 'min' ? 'Cote piézo. min interpolée - période: 1995 à 2016' : 'Cote piézométrique ' + datum.label"}},
   "strokeWidth": {"field": "s", "type": "nominal",
     "scale": {"domain": ["maxi","2017","2016","2015","2014","2013","2012","min"], "range": [4.3,3.8,5.5,4.3,6.5,4.3,4.3,4.3]},
     "legend": null}
  }
 },
 {
  "data": {"name": "textes"},
  "transform": [{"filter": "datum.k == 'titre'"}],
  "mark": {"type": "text", "font": "Liberation Sans", "fontWeight": "bold", "fontSize": 21.8, "align": "center", "baseline": "alphabetic", "color": "#000000"},
  "encoding": {
   "x": {"field": "x", "type": "quantitative", "scale": {"domain": [0, 365], "nice": false, "zero": false}, "axis": null},
   "y": {"field": "y", "type": "quantitative", "scale": {"domain": [62, 68], "nice": false, "zero": false}, "axis": null},
   "text": {"field": "t"}
  }
 },
 {
  "data": {"name": "textes"},
  "transform": [{"filter": "datum.k == 'note'"}],
  "mark": {"type": "text", "font": "Liberation Sans", "fontWeight": "bold", "fontSize": 18, "align": "center", "baseline": "alphabetic", "color": "#000000"},
  "encoding": {
   "x": {"field": "x", "type": "quantitative", "scale": {"domain": [0, 365], "nice": false, "zero": false}, "axis": null},
   "y": {"field": "y", "type": "quantitative", "scale": {"domain": [62, 68], "nice": false, "zero": false}, "axis": null},
   "text": {"field": "t"}
  }
 },
 {
  "data": {"name": "fleche"},
  "mark": {"type": "line", "color": "#000000", "strokeWidth": 3, "strokeCap": "round", "strokeJoin": "miter"},
  "encoding": {
   "x": {"field": "x", "type": "quantitative", "scale": {"domain": [0, 365], "nice": false, "zero": false}, "axis": null},
   "y": {"field": "y", "type": "quantitative", "scale": {"domain": [62, 68], "nice": false, "zero": false}, "axis": null},
   "detail": {"field": "p"},
   "order": {"field": "i", "type": "quantitative"}
  }
 }
]
}
